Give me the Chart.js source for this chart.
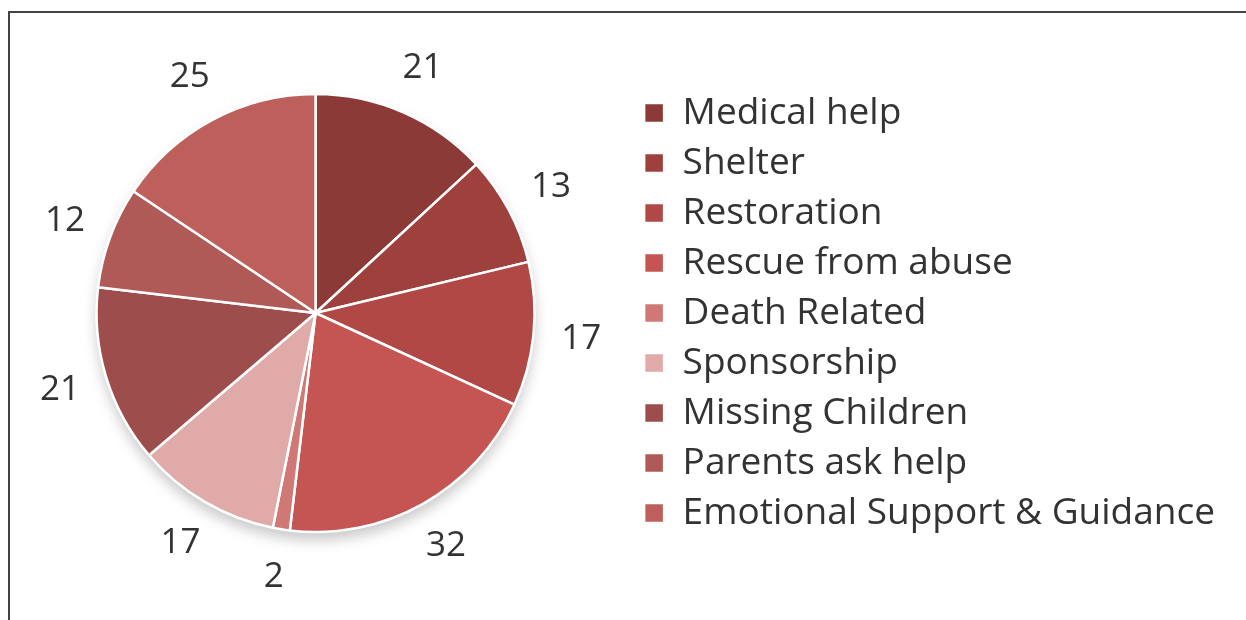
<!DOCTYPE html>
<html>
<head>
<meta charset="utf-8">
<script src="https://cdn.jsdelivr.net/npm/chart.js@4.4.1/dist/chart.umd.min.js"></script>
<style>
  html, body { margin: 0; padding: 0; background: #fff; }
  #wrap { position: relative; width: 1246px; height: 620px; overflow: hidden; }
  #frame { position: absolute; left: 8px; top: 11px; right: -10px; bottom: -10px;
           border-left: 2px solid #444; border-top: 2px solid #444; }
  canvas { position: absolute; left: 0; top: 0; }
</style>
</head>
<body>
<div id="wrap">
  <div id="frame"></div>
  <canvas id="pie-chart" width="1246" height="620"></canvas>
</div>
<script>
// categorias y valores
const categorias = ['Medical help', 'Shelter', 'Restoration', 'Rescue from abuse', 'Death Related',
                    'Sponsorship', 'Missing Children', 'Parents ask help', 'Emotional Support & Guidance'];
const valores = [21, 13, 17, 32, 2, 17, 21, 12, 25];
const colores = ['#8b3a37', '#9e403c', '#b04845', '#c45552', '#d07876',
                 '#dfaaa8', '#9e4d4d', '#b05a58', '#bd5f5b'];

// sombra suave debajo del pastel
const sombra = {
    id: 'sombra',
    beforeDatasetsDraw(chart) {
        const arc = chart.getDatasetMeta(0).data[0];
        if (!arc) return;
        const ctx = chart.ctx;
        ctx.save();
        ctx.shadowColor = 'rgba(0,0,0,0.22)';
        ctx.shadowBlur = 14;
        ctx.shadowOffsetY = 8;
        ctx.beginPath();
        ctx.arc(arc.x, arc.y, arc.outerRadius, 0, Math.PI * 2);
        ctx.fillStyle = '#fff';
        ctx.fill();
        ctx.restore();
    }
};

// etiquetas fuera de cada sector
const etiquetas = {
    id: 'etiquetas',
    afterDatasetsDraw(chart) {
        const ctx = chart.ctx;
        const meta = chart.getDatasetMeta(0);
        ctx.save();
        ctx.font = '35px "Open Sans"';
        ctx.fillStyle = '#333';
        ctx.textAlign = 'center';
        ctx.textBaseline = 'middle';
        meta.data.forEach((arc, i) => {
            const mid = (arc.startAngle + arc.endAngle) / 2;
            const r = arc.outerRadius + 48;
            ctx.fillText(String(valores[i]), arc.x + Math.cos(mid) * r, arc.y + Math.sin(mid) * r);
        });
        ctx.restore();
    }
};

const ctx = document.getElementById('pie-chart').getContext('2d');
const myChart = new Chart(ctx, {
    type: 'pie',
    data: {
        labels: categorias,
        datasets: [{
            data: valores,
            backgroundColor: colores,
            borderColor: '#fff',
            borderWidth: 2.5,
            radius: 219
        }]
    },
    options: {
        responsive: false,
        animation: false,
        layout: { padding: { left: 0, right: 21, top: 6, bottom: 0 } },
        plugins: {
            tooltip: { enabled: false },
            legend: {
                position: 'right',
                labels: {
                    font: { family: '"Open Sans"', size: 37 },
                    color: '#333',
                    boxWidth: 20,
                    boxHeight: 20,
                    padding: 13
                }
            }
        }
    },
    plugins: [sombra, etiquetas]
});
</script>
</body>
</html>
